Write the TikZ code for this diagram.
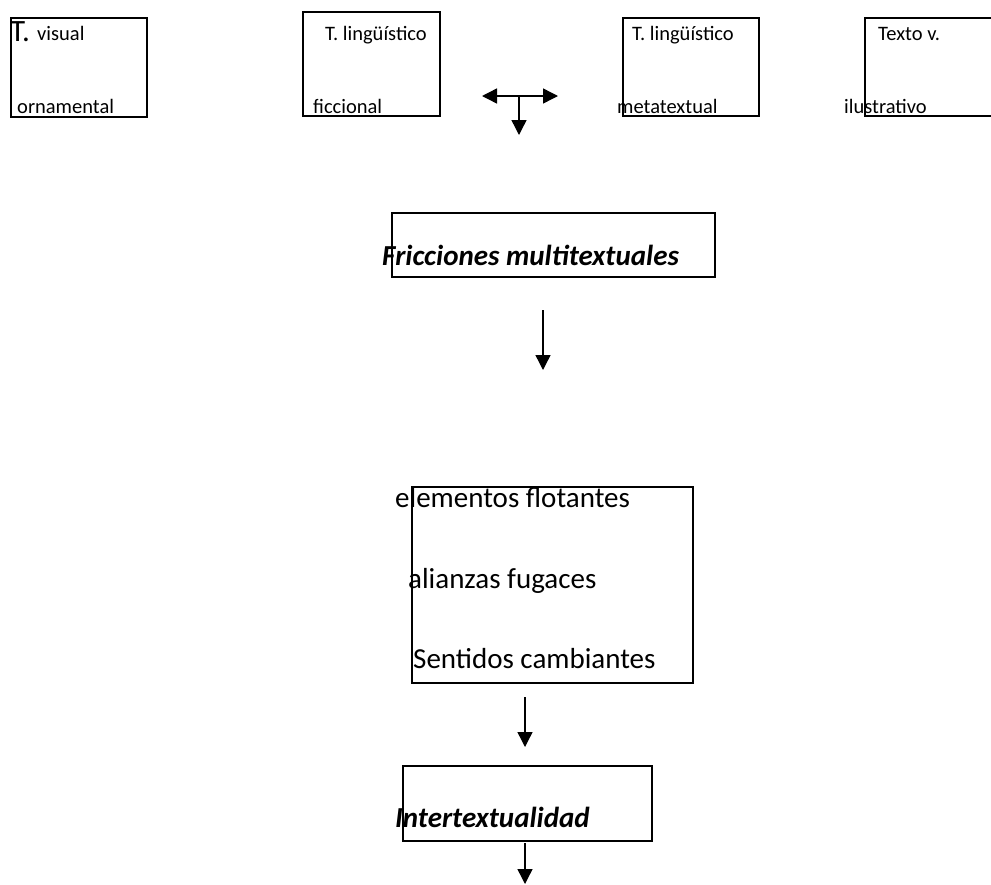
\documentclass[tikz,border=0pt]{standalone}
\usepackage{fontspec}
\setmainfont{Carlito}
\usetikzlibrary{arrows.meta}
\begin{document}
\begin{tikzpicture}[x=1pt,y=-1pt,
  frame/.style={draw, line width=1.5pt, inner sep=0pt},
  small/.style={inner sep=0pt, anchor=base west, font=\fontsize{20.5}{24}\selectfont},
  big/.style={inner sep=0pt, anchor=base west, font=\fontsize{29}{34}\selectfont},
  bigbi/.style={inner sep=0pt, anchor=base west, font=\fontsize{29}{34}\selectfont\bfseries\itshape},
  flow/.style={line width=1.4pt, -{Triangle[length=15pt,width=15pt]}},
]
\clip (0,0) rectangle (991,884);

% top row of text-type boxes
\node[frame, minimum width=136pt, minimum height=99pt] (b1) at (79,67.5) {};
\node[frame, minimum width=137pt, minimum height=104pt] (b2) at (371.5,64) {};
\node[frame, minimum width=136pt, minimum height=98pt] (b3) at (691,67) {};
\node[frame, minimum width=145pt, minimum height=98pt] (b4) at (937.5,67) {};

\node[inner sep=0pt, anchor=base west, font=\fontsize{31}{34}\selectfont] (t1a) at (10,41) {T.};
\node[small] (t1b) at (37,40) {visual};
\node[small] (t1c) at (17,113) {ornamental};
\node[small] (t2a) at (325,40) {T. lingüístico};
\node[small] (t2b) at (313,113) {ficcional};
\node[small] (t3a) at (632,40) {T. lingüístico};
\node[small] (t3b) at (617,113) {metatextual};
\node[small] (t4a) at (878,40) {Texto v.};
\node[small] (t4b) at (844,113) {ilustrativo};

% three-way arrow between the boxes
\coordinate (tc) at (519,96);
\coordinate (tl) at (482,96);
\coordinate (tr) at (558,96);
\coordinate (tb) at (519,135);
\draw[flow] (tc) -- (tl);
\draw[flow] (tc) -- (tr);
\draw[flow] (tc) -- (tb);

% frictions
\node[frame, minimum width=323pt, minimum height=64pt] (fr) at (553.5,245) {};
\node[bigbi] (frt) at (382,265) {Fricciones multitextuales};

\coordinate (a1s) at (543,310);
\coordinate (a1e) at (543,370);
\draw[flow] (a1s) -- (a1e);

% floating elements
\node[frame, minimum width=281pt, minimum height=196pt] (el) at (552.5,585) {};
\node[big] (el1) at (395,507) {elementos flotantes};
\node[big] (el2) at (408,588) {alianzas fugaces};
\node[big] (el3) at (413,668) {Sentidos cambiantes};

\coordinate (a2s) at (525,697);
\coordinate (a2e) at (525,747);
\draw[flow] (a2s) -- (a2e);

% intertextuality
\node[frame, minimum width=249pt, minimum height=75pt] (it) at (527.5,803.5) {};
\node[bigbi] (itt) at (395,827) {Intertextualidad};

\coordinate (a3s) at (525,843);
\coordinate (a3e) at (525,884);
\draw[flow] (a3s) -- (a3e);
\end{tikzpicture}
\end{document}
